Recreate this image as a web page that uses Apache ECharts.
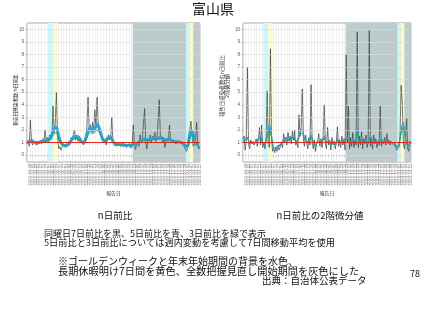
<!DOCTYPE html>
<html><head><meta charset="utf-8">
<script src="https://cdn.jsdelivr.net/npm/echarts@6/dist/echarts.min.js"></script>
<style>html,body{margin:0;padding:0;background:#fff}#c{width:427px;height:320px}</style>
</head><body><div id="c"></div>
<script>
// ---- data (day index from 2022-03-23) ----
const startYear = 2022, startMonth = 3, startDay = 23;
const totalDays = 306;
const blackStep = 2, colorStep = 4;
// left chart: n-day ratio
const leftBlack7 = [
0.9,1.2,0.7,2.8,1.0,0.8,1.1,0.9,1.0,0.8,
1.1,0.9,1.2,0.9,1.3,1.0,2.0,1.1,1.4,1.0,
1.6,1.2,1.5,3.9,1.8,2.6,5.0,1.4,0.5,0.7,
0.4,0.6,0.5,0.8,0.6,0.9,0.8,1.1,0.9,1.4,
1.2,1.3,2.0,1.2,1.6,1.1,1.4,1.0,0.9,1.1,
0.8,1.2,1.5,2.3,4.6,2.0,2.4,1.8,2.6,2.0,
3.6,2.2,4.6,2.5,1.8,2.0,1.3,1.4,1.0,1.2,
0.8,1.3,1.6,1.2,1.4,3.0,1.0,0.8,0.9,0.7,
1.0,0.8,0.9,0.7,0.8,1.0,0.7,0.9,0.6,0.8,
0.7,0.9,0.55,0.8,2.4,0.8,0.45,0.9,1.1,0.7,
1.6,1.0,1.3,1.2,3.7,1.0,0.5,1.3,1.1,1.6,
1.0,1.5,1.2,1.8,1.1,1.3,1.2,4.4,1.3,1.5,
1.0,1.4,0.6,1.2,1.3,1.1,2.4,1.2,1.0,1.2,
1.0,1.1,0.9,1.1,1.0,1.0,0.9,1.0,0.8,0.9,
0.5,0.3,0.6,1.6,2.0,2.7,1.4,0.7,0.6,1.0,
2.6,0.8,0.5,0.7];
const leftBlue5 = [
1.0,1.05,1.15,1.05,1.0,1.0,1.05,1.1,1.2,1.15,
1.3,1.6,2.1,2.2,1.5,1.0,0.8,0.75,0.8,1.0,
1.3,1.45,1.5,1.4,1.1,0.95,1.3,1.9,2.2,1.9,
2.1,2.45,2.1,1.5,1.15,1.2,1.4,1.45,1.1,0.9,
0.85,0.85,0.8,0.8,0.75,0.8,0.75,0.9,0.8,0.95,
1.1,1.2,1.3,1.2,1.25,1.3,1.35,1.3,1.35,1.4,
1.3,1.2,1.25,1.3,1.15,1.1,1.05,1.05,1.0,0.95,
0.75,0.7,1.6,1.9,1.2,0.85,0.8];
const leftGreen3 = [
1.0,1.0,1.1,1.0,1.0,0.95,1.0,1.05,1.1,1.1,
1.2,1.4,1.7,1.8,1.3,0.95,0.8,0.8,0.85,1.0,
1.2,1.3,1.35,1.25,1.05,0.95,1.2,1.6,1.8,1.7,
1.8,2.0,1.8,1.4,1.1,1.1,1.3,1.35,1.05,0.9,
0.85,0.85,0.8,0.8,0.8,0.8,0.8,0.9,0.85,0.95,
1.05,1.15,1.2,1.15,1.2,1.2,1.25,1.25,1.3,1.3,
1.25,1.15,1.2,1.2,1.1,1.05,1.05,1.0,1.0,0.95,
0.8,0.75,1.4,1.6,1.15,0.9,0.85];
// right chart: second derivative of n-day ratio
const rightBlack7 = [
1.3,1.5,0.4,1.2,7.0,1.0,0.5,1.2,0.9,1.1,
0.8,1.0,1.3,0.7,1.2,2.2,0.8,2.4,0.6,1.0,
0.5,1.2,5.1,1.0,0.6,8.45,1.2,0.3,0.5,0.2,
0.6,0.3,0.8,0.4,0.7,0.9,0.6,1.7,1.0,1.4,
0.8,1.8,1.1,1.5,0.9,1.9,1.2,2.0,0.8,1.1,
0.6,3.2,1.5,2.2,5.25,1.2,0.7,1.6,1.0,0.5,
1.4,0.8,5.6,1.0,0.5,1.2,0.3,0.9,1.1,1.7,
0.7,1.3,0.6,1.5,4.0,0.9,0.5,2.2,0.8,1.2,
0.4,1.4,0.8,1.1,0.5,1.0,2.25,0.7,1.2,0.6,
1.5,0.8,1.3,0.4,8.0,1.0,3.9,0.5,1.4,0.7,
1.8,0.6,1.2,0.8,9.8,0.6,1.5,0.8,1.85,0.5,
1.3,0.9,1.6,0.6,1.2,9.9,0.7,1.4,0.5,1.6,
0.9,1.3,0.6,1.1,0.8,3.9,0.7,1.2,0.9,1.4,
0.8,1.7,0.9,1.2,0.8,1.1,0.9,1.0,0.8,0.6,
0.4,0.3,0.6,1.5,5.55,4.3,1.0,0.5,1.4,2.9,
0.5,0.3,1.1,0.9];
const rightBlue5 = [
1.1,1.3,1.4,0.9,1.0,0.9,1.1,1.3,1.5,1.0,
0.9,1.6,2.4,1.5,0.5,0.5,0.7,0.8,1.1,1.3,
1.4,1.2,1.3,1.5,1.1,1.2,1.85,2.0,1.3,1.1,
1.0,1.6,1.0,0.7,1.1,1.0,1.1,1.5,1.0,1.1,
0.8,1.0,0.8,1.3,0.9,1.1,0.9,1.4,1.3,0.9,
1.2,1.0,2.1,1.0,1.3,0.9,1.2,0.9,1.5,1.0,
1.1,0.9,1.2,1.3,1.0,1.1,1.0,1.05,1.0,0.95,
0.6,0.8,2.0,2.6,1.3,0.7,0.9];
const rightGreen3 = [
1.05,1.2,1.3,0.95,1.0,0.95,1.05,1.2,1.35,1.0,
0.95,1.4,2.0,1.35,0.6,0.6,0.75,0.85,1.05,1.2,
1.3,1.15,1.25,1.4,1.1,1.15,1.6,1.75,1.25,1.05,
1.0,1.45,1.0,0.8,1.05,1.0,1.05,1.35,1.0,1.05,
0.85,1.0,0.85,1.2,0.95,1.05,0.9,1.3,1.2,0.95,
1.1,1.0,1.8,1.0,1.2,0.95,1.1,0.95,1.35,1.0,
1.05,0.95,1.1,1.2,1.0,1.05,1.0,1.0,1.0,0.95,
0.7,0.85,1.7,2.2,1.2,0.8,0.9];
const refLevel = 1;
// background periods (day index): GW, after-holiday 7 days, full-count review, year-end, after-holiday
const cyanPeriods = [[37, 46.5], [281, 287]];
const yellowPeriods = [[46.5, 54], [287, 294]];
const grayPeriods = [[187, 306]];
const yTicks = [0,1,2,3,4,5,6,7,8,9,10];
const yMin = -0.55, yMax = 10.5;

// ---- build ----
function pad(n){return (n<10?'0':'')+n;}
function dayLabel(d){
  const t = new Date(startYear, startMonth-1, startDay + Math.round(d));
  return t.getFullYear()+'-'+pad(t.getMonth()+1)+'-'+pad(t.getDate());
}
const pairs = (arr, step) => arr.map((v,i)=>[i*step, v]);
const FONT = '"Noto Sans CJK JP","Noto Sans",sans-serif';

function bands(){
  const out = [];
  grayPeriods.forEach(p=>out.push([{xAxis:p[0], itemStyle:{color:'#bccbcb'}},{xAxis:p[1]}]));
  cyanPeriods.forEach(p=>out.push([{xAxis:p[0], itemStyle:{color:'#cdf6fb'}},{xAxis:p[1]}]));
  yellowPeriods.forEach(p=>out.push([{xAxis:p[0], itemStyle:{color:'#fbfbcd'}},{xAxis:p[1]}]));
  return out;
}
function xAx(gi){
  return {gridIndex:gi, type:'value', min:0, max:totalDays, interval:5,
    name:'報告日', nameLocation:'middle', nameGap:29,
    nameTextStyle:{fontSize:4.8, color:'#333', fontFamily:FONT},
    axisLine:{show:false},
    axisTick:{show:true, length:1.5, lineStyle:{color:'#666', width:0.5}},
    axisLabel:{rotate:90, fontSize:4.3, color:'#777', margin:1.5, fontFamily:'Liberation Sans',
      formatter:v=>dayLabel(v)},
    splitLine:{show:true, lineStyle:{color:'#e8e8e8', width:0.6}}};
}
function yAx(gi){
  return {gridIndex:gi, type:'value', min:yMin, max:yMax,
    axisLine:{show:false},
    axisTick:{show:true, length:1.5, customValues:yTicks, lineStyle:{color:'#666', width:0.5}},
    axisLabel:{fontSize:4.5, color:'#555', margin:3, fontFamily:'Liberation Sans', customValues:yTicks,
      formatter:v=>String(Math.round(v))},
    splitLine:{show:false}};
}
function seriesFor(gi, black, blue, green, blueWidth){
  return [
    {type:'line', xAxisIndex:gi, yAxisIndex:gi, data:[[0,refLevel],[totalDays,refLevel]], showSymbol:false,
      lineStyle:{width:0}, silent:true, z:1,
      markArea:{silent:true, data:bands()},
      markLine:{silent:true, symbol:'none', label:{show:false}, animation:false,
        lineStyle:{color:'#dcdcdc', width:0.6, type:'solid'},
        data:yTicks.map(v=>({yAxis:v}))}},
    {type:'line', xAxisIndex:gi, yAxisIndex:gi, data:pairs(black, blackStep), showSymbol:false,
      lineStyle:{color:'#3c3c3c', width:0.7}, z:3},
    {type:'line', xAxisIndex:gi, yAxisIndex:gi, data:pairs(blue, colorStep), showSymbol:false, smooth:0.3,
      lineStyle:{color:'#2aa5e3', width:blueWidth}, z:4},
    {type:'line', xAxisIndex:gi, yAxisIndex:gi, data:pairs(green, colorStep), showSymbol:false, smooth:0.3,
      lineStyle:{color:'#2f9a4c', width:0.9}, z:5},
    {type:'line', xAxisIndex:gi, yAxisIndex:gi, data:[[0,refLevel],[totalDays,refLevel]], showSymbol:false,
      lineStyle:{color:'#e3261e', width:1.2}, z:6}
  ];
}
const chart = echarts.init(document.getElementById('c'), null, {renderer:'canvas', width:427, height:320});
const T = (x,y,text,size,align,extra) => Object.assign({type:'text', x:x, y:y, silent:true,
  style:{text:text, fontSize:size, fontFamily:FONT, fill:'#111', textAlign:align||'left', textVerticalAlign:'middle'}}, extra||{});
chart.setOption({
  animation:false,
  backgroundColor:'#ffffff',
  grid:[
    {left:27, top:23, width:173, height:139, show:true, backgroundColor:'#ffffff', borderColor:'#8a8a8a', borderWidth:0.8},
    {left:243, top:23, width:168, height:139, show:true, backgroundColor:'#ffffff', borderColor:'#8a8a8a', borderWidth:0.8}
  ],
  xAxis:[xAx(0), xAx(1)],
  yAxis:[yAx(0), yAx(1)],
  series: seriesFor(0, leftBlack7, leftBlue5, leftGreen3, 3).concat(seriesFor(1, rightBlack7, rightBlue5, rightGreen3, 1.3)),
  graphic:[
    T(213, 9, '富山県', 14, 'center'),
    T(15, 100, '報告日感染者数/n日前比', 4.7, 'center', {rotation:Math.PI/2}),
    {type:'text', x:224.5, y:86, rotation:Math.PI/2, silent:true,
      style:{text:'報告日感染者数のn日前比\n2階微分値', fontSize:5.3, lineHeight:5.5, fontFamily:FONT, fill:'#333', textAlign:'center', textVerticalAlign:'middle'}},
    T(115, 215, 'n日前比', 9.5, 'center'),
    T(320, 215, 'n日前比の2階微分値', 9.5, 'center'),
    T(44, 234, '同曜日7日前比を黒、5日前比を青、3日前比を緑で表示', 9, 'left'),
    T(44, 243, '5日前比と3日前比については週内変動を考慮して7日間移動平均を使用', 9.2, 'left'),
    T(58, 261, '※ゴールデンウィークと年末年始期間の背景を水色、', 10, 'left'),
    T(58, 271, '長期休暇明け7日間を黄色、全数把握見直し開始期間を灰色にした', 10.2, 'left'),
    T(262, 280, '出典：自治体公表データ', 9.5, 'left'),
    T(415, 274, '78', 9, 'center')
  ]
});
</script></body></html>
